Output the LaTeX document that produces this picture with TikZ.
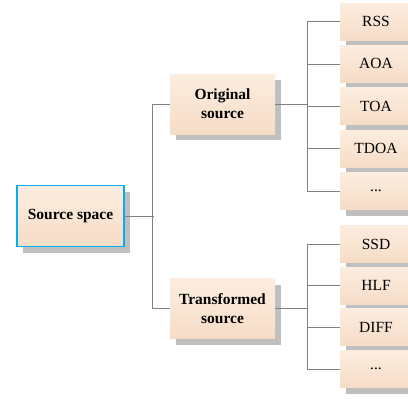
\documentclass[tikz,border=0pt]{standalone}
\usepackage{fontspec}
\setmainfont{Liberation Serif}
\usetikzlibrary{chains,
                positioning,
                shadows
                }
\definecolor{peachtop}{RGB}{252,237,224}
\definecolor{peachbot}{RGB}{246,220,198}
\definecolor{rootline}{RGB}{0,176,240}

\begin{document}
\begin{tikzpicture}[
        x = 1pt, y = -1pt,
        box/.style = {top color=peachtop, bottom color=peachbot, align=center,
                      font=\fontsize{15.5}{19}\selectfont,
                      drop shadow={shadow xshift=6pt, shadow yshift=-6pt,
                                   fill=gray!50, opacity=1}},
        root/.style = {box, draw=rootline, line width=1.3pt,
                       minimum width=107pt, minimum height=61pt,
                       font=\bfseries\fontsize{15.5}{19}\selectfont},
        mid/.style = {box, minimum width=105pt, minimum height=60pt,
                      font=\bfseries\fontsize{15.5}{19}\selectfont},
        leaf/.style = {box, minimum width=72pt, minimum height=37pt},
        link/.style = {draw=gray, line width=0.8pt}
    ]
    \useasboundingbox (0,0) rectangle (408,399);
    \node (src) [root] at (70.5,216) {Source space};
    \node (orig) [mid] at (222.5,104) {Original\\source};
    \node (trans) [mid] at (222.5,308.5) {Transformed\\source};
    \begin{scope}[start chain = going below, node distance = 5pt,
                  every node/.append style={on chain}]
        \node (rss) [leaf] at (376,21.5) {RSS};
        \node (aoa) [leaf] {AOA};
        \node (toa) [leaf] {TOA};
        \node (tdoa) [leaf] {TDOA};
        \node (etc1) [leaf] {...};
    \end{scope}
    \begin{scope}[start chain = going below, node distance = 4.3pt,
                  every node/.append style={on chain}]
        \node (ssd) [leaf] at (376,244) {SSD};
        \node (hlf) [leaf] {HLF};
        \node (diff) [leaf] {DIFF};
        \node (etc2) [leaf] {...};
    \end{scope}
    % connectors
    \draw[link] (src.east) -- ++(29pt,0);
    \draw[link] (orig.west) -- ++(-17pt,0) |- (trans.west);
    \foreach \n in {rss,aoa,toa,tdoa,etc1}
        \draw[link] (orig.east) -- ++(32pt,0) |- (\n.west);
    \foreach \n in {ssd,hlf,diff,etc2}
        \draw[link] (trans.east) -- ++(32pt,0) |- (\n.west);
\end{tikzpicture}
\end{document}
